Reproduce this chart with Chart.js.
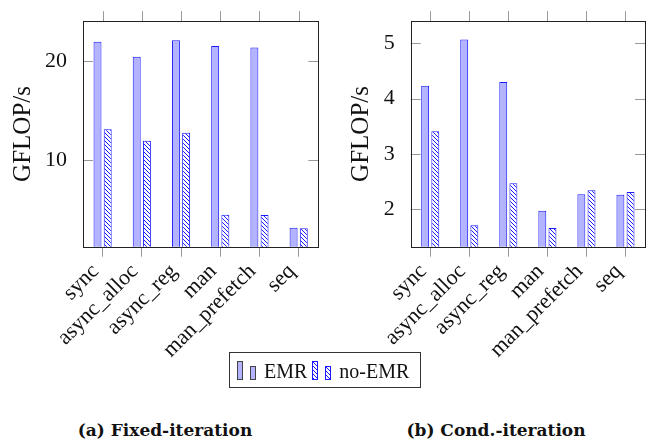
<!DOCTYPE html>
<html>
<head>
<meta charset="utf-8">
<script src="https://cdn.jsdelivr.net/npm/chart.js@4.4.0/dist/chart.umd.min.js"></script>
<style>
body { margin: 0; width: 649px; height: 442px; background: #fff; position: relative; overflow: hidden; font-family: "Liberation Serif", serif; color: #111; }
canvas { position: absolute; top: 0; }
#chartA { left: 0; }
#chartB { left: 325px; }
#legend { position: absolute; left: 229px; top: 352px; width: 192px; height: 36px; box-sizing: border-box; border: 1px solid #333; display: flex; align-items: center; padding-left: 7px; font-size: 20px; }
#legend canvas { position: static; margin-top: 1px; }
#legend span { margin-left: 7px; margin-right: 5px; line-height: 1; padding-top: 2px; }
.cap { position: absolute; top: 420px; font-family: "DejaVu Serif", serif; font-weight: bold; font-size: 17px; transform: translateX(-50%); white-space: nowrap; }
</style>
</head>
<body>
<canvas id="chartA" width="325" height="370"></canvas>
<canvas id="chartB" width="324" height="370"></canvas>
<div id="legend"></div>
<div class="cap" id="capA" style="left:165px"></div>
<div class="cap" id="capB" style="left:496px"></div>
<script>
// data
var categories = ['sync', 'async_alloc', 'async_reg', 'man', 'man_prefetch', 'seq'];
var seriesNames = ['EMR', 'no-EMR'];
var fixedEMR = [21.94, 20.42, 22.09, 21.51, 21.35, 3.22];
var fixedNoEMR = [13.13, 11.97, 12.78, 4.52, 4.48, 3.16];
var condEMR = [4.23, 5.07, 4.30, 1.97, 2.27, 2.26];
var condNoEMR = [3.41, 1.71, 2.47, 1.66, 2.34, 2.31];
var fixedTicks = [10, 20];
var condTicks = [2, 3, 4, 5];
var yTitle = 'GFLOP/s';
var captions = ['(a) Fixed-iteration', '(b) Cond.-iteration'];

var BLUE = '#1a1aff';
var LIGHT = '#b3b3ff';

function hatch(ctx) {
    var p = document.createElement('canvas');
    p.width = 4; p.height = 4;
    var g = p.getContext('2d');
    g.fillStyle = '#fff';
    g.fillRect(0, 0, 4, 4);
    g.strokeStyle = '#0000ff';
    g.lineWidth = 0.9;
    g.beginPath();
    g.moveTo(-1, -1); g.lineTo(5, 5);
    g.moveTo(-1, 3); g.lineTo(1, 5);
    g.moveTo(3, -1); g.lineTo(5, 1);
    g.stroke();
    return ctx.createPattern(p, 'repeat');
}

// box around plot, inward y ticks, outward top x ticks
var framePlugin = {
    id: 'frame',
    afterDatasetsDraw: function(chart) {
        var a = chart.chartArea, c = chart.ctx, x = chart.scales.x, y = chart.scales.y;
        c.save();
        c.strokeStyle = '#999';
        c.lineWidth = 1;
        c.beginPath();
        y.ticks.forEach(function(t, i) {
            var py = Math.round(y.getPixelForTick(i)) + 0.5;
            c.moveTo(a.left, py); c.lineTo(a.left + 10, py);
            c.moveTo(a.right, py); c.lineTo(a.right - 10, py);
        });
        x.ticks.forEach(function(t, i) {
            var px = Math.round(x.getPixelForTick(i)) + 0.5;
            c.moveTo(px, a.top); c.lineTo(px, a.top - 10);
        });
        c.stroke();
        c.strokeStyle = '#222';
        c.strokeRect(Math.round(a.left) + 0.5, Math.round(a.top) + 0.5, Math.round(a.right - a.left), Math.round(a.bottom - a.top));
        c.restore();
    }
};

function makeChart(id, emr, noEmr, ticks, ymin, ymax, yWidth, titlePad, pad) {
    var ctx = document.getElementById(id).getContext('2d');
    return new Chart(ctx, {
        type: 'bar',
        data: {
            labels: categories,
            datasets: [{
                label: seriesNames[0],
                data: emr,
                backgroundColor: LIGHT,
                borderColor: BLUE,
                borderWidth: 1,
                categoryPercentage: 0.52,
                barPercentage: 0.78
            }, {
                label: seriesNames[1],
                data: noEmr,
                backgroundColor: hatch(ctx),
                borderColor: BLUE,
                borderWidth: 1,
                categoryPercentage: 0.52,
                barPercentage: 0.78
            }]
        },
        options: {
            responsive: false,
            animation: false,
            layout: { padding: pad },
            plugins: { legend: { display: false }, tooltip: { enabled: false } },
            scales: {
                x: {
                    offset: true,
                    border: { display: false },
                    grid: { offset: false, drawOnChartArea: false, drawTicks: true, tickLength: 10, color: '#999' },
                    ticks: { minRotation: 45, maxRotation: 45, autoSkip: false, padding: 2, labelOffset: -7, color: '#111',
                             font: { family: 'Liberation Serif', size: 22 } },
                    afterFit: function(s) { s.height = 370 - 246.7; }
                },
                y: {
                    min: ymin,
                    max: ymax,
                    border: { display: false },
                    grid: { display: false },
                    ticks: { padding: 8, color: '#111', font: { family: 'Liberation Serif', size: 22 } },
                    afterBuildTicks: function(s) { s.ticks = ticks.map(function(v) { return { value: v }; }); },
                    afterFit: function(s) { s.width = yWidth; },
                    title: { display: true, text: yTitle, color: '#111', padding: { top: titlePad, bottom: 0 },
                             font: { family: 'Liberation Serif', size: 25 } }
                }
            }
        },
        plugins: [framePlugin]
    });
}

makeChart('chartA', fixedEMR, fixedNoEMR, fixedTicks, 1.3, 24, 83, 8, { top: 12.3, right: 6.7, left: 0, bottom: 0 });
makeChart('chartB', condEMR, condNoEMR, condTicks, 1.32, 5.4, 85.7, 21, { top: 13.3, right: 4, left: 0, bottom: 0 });

// legend: two small bars per entry, as in the original
function legendIcon(fill, stroke) {
    var cv = document.createElement('canvas');
    cv.width = 20; cv.height = 19;
    var g = cv.getContext('2d');
    g.fillStyle = fill === 'hatch' ? hatch(g) : fill;
    g.strokeStyle = stroke;
    g.lineWidth = 1;
    g.fillRect(0.5, 0.5, 5, 18); g.strokeRect(0.5, 0.5, 5, 18);
    g.fillRect(13.5, 5.5, 5, 13); g.strokeRect(13.5, 5.5, 5, 13);
    return cv;
}
var lg = document.getElementById('legend');
var iconSpec = [[LIGHT, '#444'], ['hatch', BLUE]];
seriesNames.forEach(function(name, i) {
    lg.appendChild(legendIcon(iconSpec[i][0], iconSpec[i][1]));
    var sp = document.createElement('span');
    sp.textContent = name;
    lg.appendChild(sp);
});
document.getElementById('capA').textContent = captions[0];
document.getElementById('capB').textContent = captions[1];
</script>
</body>
</html>
